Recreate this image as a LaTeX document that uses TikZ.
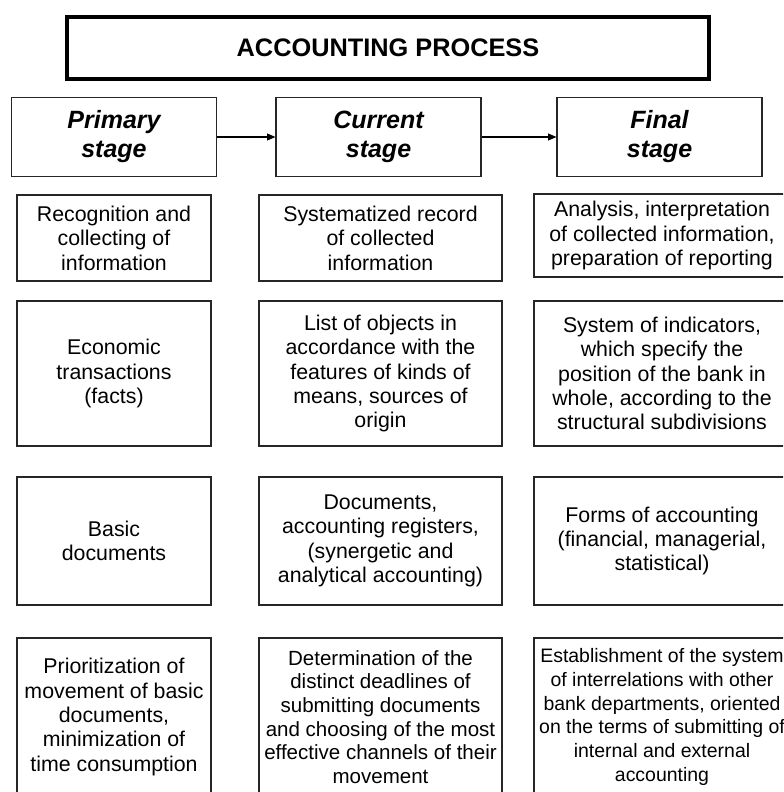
\documentclass[tikz,border=0pt]{standalone}
\usepackage{fontspec}
\setmainfont{Liberation Sans}
\usetikzlibrary{arrows.meta}

\begin{document}
\begin{tikzpicture}[x=0.75pt, y=-0.75pt,
    box/.style={draw=black!85, line width=0.8pt, align=center, inner sep=2pt,
        font=\fontsize{16}{18.3}\selectfont},
    stagebox/.style={draw=black!85, line width=0.8pt, align=center,
        minimum width=153.75pt, minimum height=59.25pt,
        font=\fontsize{18.75}{21.75}\selectfont\bfseries\itshape},
    titlebox/.style={draw, line width=3pt, minimum width=481.5pt, minimum height=46.5pt,
        font=\fontsize{19}{22}\selectfont\bfseries},
    colA/.style={box, minimum width=145.5pt},
    colB/.style={box, minimum width=182.25pt},
    colC/.style={box, minimum width=192pt},
    arrow/.style={-{Triangle[length=2.2mm, width=1.8mm]}, line width=0.8pt}
]
    \clip (0,0) rectangle (783,792);

    % === Title ===
    \node[titlebox] (title) at (388,48) {ACCOUNTING PROCESS};

    % === Stages ===
    \node[stagebox] (primary) at (114,137) {Primary\\stage};
    \node[stagebox] (current) at (378.5,137) {Current\\stage};
    \node[stagebox] (final) at (659.5,137) {Final\\stage};

    \draw[arrow] (primary) -- (current);
    \draw[arrow] (current) -- (final);

    % === Row 1 ===
    \node[colA, minimum height=64.5pt] (a1) at (114,238) {Recognition and\\collecting of\\information};
    \node[colB, minimum height=64.5pt] (b1) at (380.5,238) {Systematized record\\of collected\\information};
    \node[colC, minimum height=62.25pt] (c1) at (662,235.5) {Analysis, interpretation\\of collected information,\\preparation of reporting};

    % === Row 2 ===
    \node[colA, minimum height=108.75pt] (a2) at (114,373.5) {Economic\\transactions\\(facts)};
    \node[colB, minimum height=108.75pt] (b2) at (380.5,373.5) {List of objects in\\accordance with the\\features of kinds of\\means, sources of\\origin};
    \node[colC, minimum height=108.75pt] (c2) at (662,373.5) {System of indicators,\\which specify the\\position of the bank in\\whole, according to the\\structural subdivisions};

    % === Row 3 ===
    \node[colA, minimum height=96pt] (a3) at (114,541) {Basic\\documents};
    \node[colB, minimum height=96pt] (b3) at (380.5,541) {Documents,\\accounting registers,\\(synergetic and\\analytical accounting)};
    \node[colC, minimum height=96pt] (c3) at (662,541) {Forms of accounting\\(financial, managerial,\\statistical)};

    % === Row 4 ===
    \node[colA, minimum height=118.5pt] (a4) at (114,717) {Prioritization of\\movement of basic\\documents,\\minimization of\\time consumption};
    \node[colB, minimum height=118.5pt, font=\fontsize{15.4}{17.8}\selectfont] (b4) at (380.5,717) {Determination of the\\distinct deadlines of\\submitting documents\\and choosing of the most\\effective channels of their\\movement};
    \node[colC, minimum height=118.5pt, font=\fontsize{14.6}{17.8}\selectfont] (c4) at (662,717) {Establishment of the system\\of interrelations with other\\bank departments, oriented\\on the terms of submitting of\\internal and external\\accounting};
\end{tikzpicture}
\end{document}
